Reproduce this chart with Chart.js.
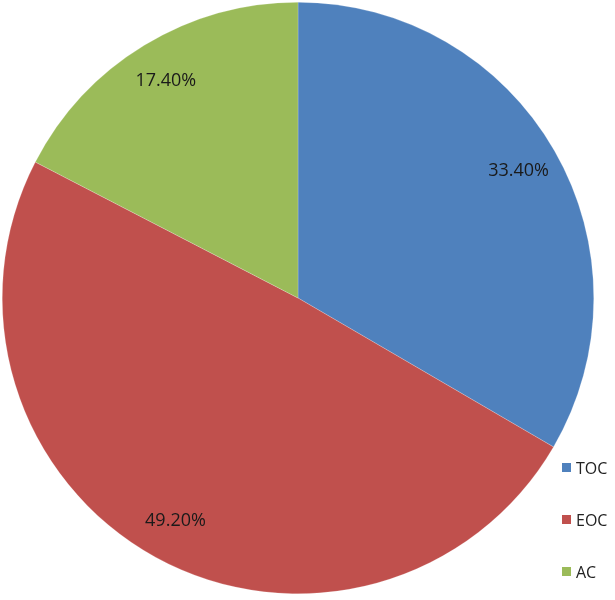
<!DOCTYPE html>
<html>
<head>
<meta charset="utf-8">
<script src="https://cdn.jsdelivr.net/npm/chart.js@4/dist/chart.umd.min.js"></script>
<style>
  html, body { margin: 0; padding: 0; background: #fff; }
  #wrap { position: relative; width: 615px; height: 600px; }
  #legend { position: absolute; left: 562px; top: 457px; font-family: "Open Sans", "Liberation Sans", sans-serif; font-size: 16px; color: #222; }
  #legend div { height: 52px; display: flex; align-items: flex-start; }
  #legend span.box { display: inline-block; width: 9px; height: 9px; margin: 6px 5px 0 0; }
</style>
</head>
<body>
<div id="wrap">
  <canvas id="pie" width="615" height="600"></canvas>
  <div id="legend"></div>
</div>
<script>
const categories = ['TOC', 'EOC', 'AC'];
const shares = [33.4, 49.2, 17.4];
const sliceColors = ['#4F81BD', '#C0504D', '#9BBB59'];

// percent labels drawn inside each slice
const pctLabels = {
  id: 'pctLabels',
  afterDatasetsDraw(chart) {
    const ctx = chart.ctx;
    const meta = chart.getDatasetMeta(0);
    ctx.save();
    ctx.font = '18px "Open Sans", "Liberation Sans", sans-serif';
    ctx.fillStyle = '#1a1a1a';
    ctx.textAlign = 'center';
    ctx.textBaseline = 'middle';
    meta.data.forEach((arc, i) => {
      const p = arc.getProps(['x', 'y', 'startAngle', 'endAngle', 'outerRadius']);
      const mid = (p.startAngle + p.endAngle) / 2;
      const r = p.outerRadius * 0.86;
      ctx.fillText(shares[i].toFixed(2) + '%', p.x + Math.cos(mid) * r, p.y + Math.sin(mid) * r);
    });
    ctx.restore();
  }
};

new Chart(document.getElementById('pie'), {
  type: 'pie',
  data: {
    labels: categories,
    datasets: [{
      data: shares,
      backgroundColor: sliceColors,
      borderColor: 'rgba(255,255,255,0.4)',
      borderWidth: 0.5
    }]
  },
  options: {
    responsive: false,
    animation: false,
    layout: { padding: { left: 2, top: 2, right: 21, bottom: 6 } },
    plugins: {
      legend: { display: false },
      tooltip: { enabled: false }
    }
  },
  plugins: [pctLabels]
});

var legend = document.getElementById('legend');
categories.forEach(function (c, i) {
  var row = document.createElement('div');
  row.innerHTML = '<span class="box" style="background:' + sliceColors[i] + '"></span>' + c;
  legend.appendChild(row);
});
</script>
</body>
</html>
